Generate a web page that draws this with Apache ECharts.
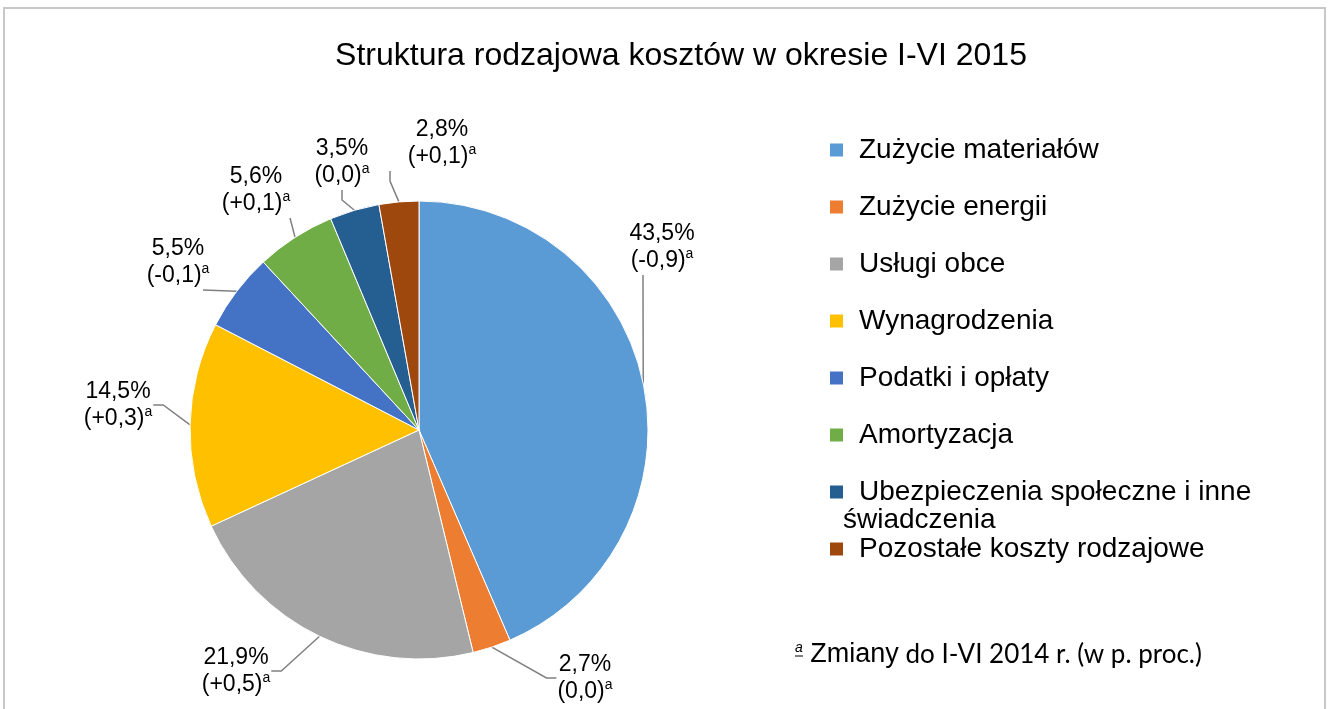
<!DOCTYPE html>
<html>
<head>
<meta charset="utf-8">
<script src="https://cdn.jsdelivr.net/npm/echarts@6/dist/echarts.min.js"></script>
<style>html,body{margin:0;padding:0;background:#fff;}#c{width:1330px;height:709px;}</style>
</head>
<body>
<div id="c"></div>
<script>
const categories = ['Zużycie materiałów','Zużycie energii','Usługi obce','Wynagrodzenia','Podatki i opłaty','Amortyzacja','Ubezpieczenia społeczne i inne świadczenia','Pozostałe koszty rodzajowe'];
const shares = [43.5, 2.7, 21.9, 14.5, 5.5, 5.6, 3.5, 2.8];
const changes = ['-0,9', '0,0', '+0,5', '+0,3', '-0,1', '+0,1', '0,0', '+0,1'];
const colors = ['#5B9BD5','#ED7D31','#A5A5A5','#FFC000','#4472C4','#70AD47','#255E91','#9E480E'];
// label box centre, and invisible spacer widths (left/right) so the leader line meets the box where the original does
const labelPos = [[643,247],[585,678],[236,671],[118,405],[203,262],[290,190],[342,162],[390,143]];
const spaceL = [38, 0, 0, 0, 0, 0, 0, 104];
const spaceR = [0, 0, 0, 0, 50, 68, 0, 0];
const lineLen2 = [10, 10, 10, 10, 0, 0, 10, 10];

const fmt = v => v.toFixed(1).replace('.', ',');
const data = categories.map((c, i) => ({
  name: c, value: shares[i],
  itemStyle: { color: colors[i] },
  label: { rich: {
    l: { width: spaceL[i], height: 1 },
    r: { width: spaceR[i], height: 1 },
    v: { fontFamily: '"Liberation Sans", Arial, sans-serif', fontSize: 23, color: '#000', lineHeight: 27 },
    s: { fontFamily: '"Liberation Sans", Arial, sans-serif', fontSize: 14, color: '#000', lineHeight: 27, padding: [0,0,12,0] }
  } },
  labelLine: { length2: lineLen2[i] }
}));

const chart = echarts.init(document.getElementById('c'));
const FONT = '"Liberation Sans", Arial, sans-serif';
chart.setOption({
  animation: false,
  title: {
    text: 'Struktura rodzajowa kosztów w okresie I-VI 2015',
    left: 676, top: 35, textAlign: 'center',
    textStyle: { fontFamily: FONT, fontSize: 32, fontWeight: 'normal', color: '#000' }
  },
  legend: {
    orient: 'vertical', left: 823, top: 130,
    itemWidth: 15, itemHeight: 15, itemGap: 27, icon: 'rect',
    formatter: n => '{sp|}' + (n.startsWith('Ubezpieczenia') ? 'Ubezpieczenia społeczne i inne' : n),
    textStyle: { fontFamily: FONT, fontSize: 28, color: '#000', lineHeight: 30,
      rich: { sp: { width: 10, height: 1 } } },
    data: categories
  },
  graphic: [
    { type: 'rect', shape: { x: 4, y: 8, width: 1321, height: 720 }, style: { fill: 'none', stroke: '#c8c8c8', lineWidth: 2 }, silent: true },
    { type: 'text', left: 843, top: 506, style: { text: 'świadczenia', font: '28px "Liberation Sans", Arial, sans-serif', fill: '#000' } },
    { type: 'text', left: 795, top: 641, style: {
        text: '{s|a}{z| Zmiany}{c| do I-VI 2014 r. (w p. proc.)}',
        rich: {
          s: { fontFamily: FONT, fontSize: 14, fontStyle: 'italic', fill: '#000', padding: [0,0,12,0] },
          z: { fontFamily: FONT, fontSize: 27, fill: '#000' },
          c: { fontFamily: 'Lato, "Open Sans", sans-serif', fontSize: 26, fill: '#000' }
        } } },
    { type: 'line', shape: { x1: 795, y1: 656, x2: 803, y2: 656 }, style: { stroke: '#000', lineWidth: 1 } }
  ],
  series: [{
    type: 'pie',
    center: [419, 430], radius: 229,
    startAngle: 90, clockwise: true,
    itemStyle: { borderColor: '#fff', borderWidth: 1 },
    data: data,
    label: {
      show: true, position: 'outside',
      backgroundColor: 'rgba(255,255,255,0)', borderColor: 'rgba(255,255,255,0)', borderWidth: 1,
      formatter: p => {
        const i = p.dataIndex;
        const L = spaceL[i] ? '{l|}' : '', R = spaceR[i] ? '{r|}' : '';
        return L + '{v|' + fmt(shares[i]) + '%}' + R + '\n' + L + '{v|(' + changes[i] + ')}{s|a}' + R;
      },
      align: 'center'
    },
    labelLine: { show: true, length: 20, lineStyle: { color: '#808080', width: 1.5 } },
    labelLayout: p => ({ x: labelPos[p.dataIndex][0], y: labelPos[p.dataIndex][1], align: 'center', verticalAlign: 'middle' })
  }]
});
</script>
</body>
</html>
